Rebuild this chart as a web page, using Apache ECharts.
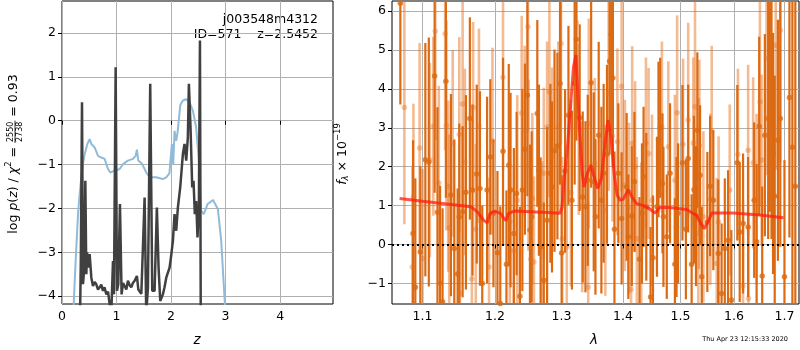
<!DOCTYPE html>
<html>
<head>
<meta charset="utf-8">
<script src="https://cdn.jsdelivr.net/npm/echarts@6/dist/echarts.min.js"></script>
<style>
  html, body { margin: 0; padding: 0; background: #fff; }
  #main { width: 800px; height: 350px; }
</style>
</head>
<body>
<div id="main"></div>
<script>
// ---- left panel: log p(z) ----
var zBlue = [0.18, 0.214, 0.254, 0.294, 0.325, 0.355, 0.385, 0.416, 0.465, 0.507, 0.538, 0.599, 0.66, 0.721, 0.782,
  0.843, 0.886, 0.965, 1.057, 1.118, 1.209, 1.301, 1.35, 1.374, 1.399, 1.472, 1.545, 1.606, 1.728, 1.85, 1.912,
  1.97, 2.015, 2.04, 2.064, 2.095, 2.119, 2.17, 2.217, 2.278, 2.339, 2.4, 2.46, 2.51, 2.55, 2.6, 2.67, 2.77,
  2.86, 2.92, 2.98, 3.01];
var logpBlue = [-4.6, -4.2, -3.1, -2.13, -1.65, -1.29, -0.98, -0.76, -0.53, -0.42, -0.53, -0.61, -0.8, -0.84, -0.87,
  -1.1, -1.18, -1.14, -1.1, -0.99, -0.91, -0.87, -0.8, -0.66, -0.91, -0.99, -1.18, -1.29, -1.29, -1.33, -1.29,
  -1.2, -0.53, -0.99, -0.23, -0.46, -0.27, 0.36, 0.46, 0.49, 0.42, 0.23, -0.15, -0.91, -2.05, -2.13, -1.9, -1.81,
  -2.02, -2.74, -4.03, -4.6];

var zDark = [0.33, 0.345, 0.367, 0.385, 0.41, 0.428, 0.446, 0.46, 0.477, 0.507, 0.538, 0.568, 0.6, 0.629, 0.66,
  0.69, 0.72, 0.751, 0.78, 0.813, 0.845, 0.874, 0.904, 0.935, 0.953, 0.984, 1.008, 1.032, 1.063, 1.093, 1.12,
  1.148, 1.18, 1.209, 1.24, 1.27, 1.3, 1.332, 1.374, 1.4, 1.423, 1.455, 1.484, 1.515, 1.545, 1.576, 1.618,
  1.655, 1.698, 1.74, 1.771, 1.802, 1.85, 1.88, 1.912, 1.945, 1.973, 2.0, 2.034, 2.064, 2.095, 2.125, 2.168,
  2.217, 2.247, 2.278, 2.308, 2.327, 2.357, 2.388, 2.412, 2.436, 2.461, 2.485, 2.51, 2.53, 2.545];
var logpDark = [-4.6, -3.2, 0.42, -3.73, -3.35, -1.37, -3.5, -3.0, -3.35, -3.04, -3.58, -3.77, -3.68, -3.73, -3.85,
  -3.8, -3.74, -3.88, -3.8, -3.96, -3.9, -4.19, -4.4, -3.2, -3.96, 1.22, -3.88, -3.73, -1.9, -3.96, -3.7,
  -3.73, -3.85, -3.65, -3.75, -3.8, -3.7, -3.65, -3.54, -3.85, -3.88, -3.95, -3.96, -1.75, -4.4, -3.8, 0.84,
  -3.88, -3.88, -1.98, -3.35, -4.11, -3.96, -3.8, -3.58, -3.62, -3.35, -3.1, -2.74, -2.13, -2.51, -1.98, -1.52,
  -0.76, -0.53, -0.91, -0.38, 0.84, -0.15, -1.52, -1.37, -2.13, -1.83, -2.66, -1.98, 1.83, -4.6];

var zTicks = [0, 1, 2, 3, 4];
var logpTicks = [-4, -3, -2, -1, 0, 1, 2];

// ---- right panel: spectrum ----
var lamDark = [1.071, 1.0875, 1.0905, 1.097, 1.1037, 1.1083, 1.1161, 1.1199, 1.1234, 1.1268, 1.1313, 1.1382, 1.1428,
  1.1474, 1.1497, 1.1543, 1.1589, 1.1644, 1.1681, 1.1741, 1.1786, 1.1819, 1.1888, 1.1934, 1.1979, 1.2037, 1.2078,
  1.2118, 1.2168, 1.2202, 1.2228, 1.2277, 1.2318, 1.2367, 1.2403, 1.2442, 1.2478, 1.2517,
  1.2543, 1.2628, 1.2652, 1.2678, 1.2727, 1.2778, 1.2828, 1.2853, 1.2892, 1.2937, 1.2978, 1.3003, 1.3057, 1.3110,
  1.3165, 1.3208, 1.3235, 1.3288, 1.3337, 1.3381, 1.3418, 1.3473, 1.3515, 1.3543, 1.3596, 1.3640, 1.3677, 1.3732,
  1.3775, 1.3802, 1.3830, 1.3856, 1.3921, 1.3976, 1.4061, 1.4089, 1.4148, 1.4193, 1.4280, 1.4322, 1.4350, 1.4397,
  1.4471, 1.4513, 1.4583, 1.4610, 1.4640, 1.4680,
  1.4697, 1.4756, 1.4814, 1.4901, 1.4930, 1.4958, 1.5037, 1.5099, 1.5141, 1.5204, 1.5247, 1.5284, 1.5309, 1.5359,
  1.5390, 1.5494, 1.5545, 1.5606, 1.5699, 1.5762, 1.5823, 1.5885, 1.5948, 1.6063, 1.6109, 1.6174, 1.6273, 1.6392,
  1.6440, 1.6491, 1.6551, 1.6604, 1.6670, 1.6703, 1.6737, 1.6768, 1.6802, 1.6867, 1.6915, 1.7000, 1.7102, 1.7163,
  1.7224];
var fluxDark = [6.2, 0.28, -1.1, -0.19, 2.18, 2.12, 4.33, 0.83, -0.99, -1.47, 4.2, 1.27, -0.1,
  -0.76, 0.71, 0.84, 1.34, 3.24, 1.4, 1.81, 1.44, -1.0, 1.4, 2.25, 0.8, -0.21, -1.52,
  2.4, -0.51, 2.04, 1.4, 0.28, 1.31, -1.33, 1.4, 2.45, 3.84, 0.37,
  0.71, 3.37, 1.91, -0.06, -0.92, 0.62, 1.83, 1.48, 2.41, 2.53, 4.14, -0.22, 1.89, 3.32,
  1.14, 4.14, 5.27, 3.26, 1.22, 0.97, 1.65, 4.16, 1.61, 0.71, 2.81, 1.14, 1.83, 2.32,
  4.71, 5.4, 4.28, 0.39, 1.83, 0.67, 1.48, 0.2, 0.73, 1.61, -0.38, 0.8, 1.74, 0.97,
  -1.35, -0.34, 0.97, 2.7, 3.0, 1.57,
  0.71, 0.2, 1.83, -0.51, 0.45, 0.8, 2.1, 0.39, 2.21, -0.51, 1.41, 0.73, 2.94, 1.78,
  -0.83, 0.58, 1.5, 1.14, -0.23, -1.26, -0.1, 0.11, -1.43, 2.1, 0.32, 0.54, 0.45, 1.14,
  0.07, 3.04, -0.81, 2.81, 3.24, 3.94, 3.24, 2.34, 1.24, 2.68, 3.24, -0.83, 3.78, 2.5,
  1.5];
var errDark = [2.6, 2.4, 2.8, 2.2, 3.0, 3.2, 3.0, 2.7, 2.5, 2.4, 3.0, 2.6, 2.8,
  2.2, 2.4, 2.2, 2.5, 2.6, 2.2, 2.3, 2.5, 2.0, 2.4, 2.0, 1.9, 2.1, 2.5,
  2.4, 1.9, 2.6, 2.5, 2.2, 2.1, 2.3, 2.6, 2.2, 2.6, 2.2,
  2.2, 2.4, 2.2, 2.3, 2.0, 2.4, 2.3, 2.2, 2.6, 2.4, 2.6, 2.0, 2.1, 2.3,
  2.3, 2.6, 2.6, 2.4, 2.2, 2.2, 2.2, 2.7, 2.3, 2.0, 2.4, 2.4, 2.3, 2.3,
  2.4, 2.5, 2.3, 2.0, 1.8, 1.7, 1.9, 1.6, 1.8, 1.8, 1.6, 1.8, 1.8, 1.9,
  1.8, 1.6, 1.8, 2.0, 1.8, 1.8,
  1.8, 1.6, 1.8, 1.7, 1.8, 1.8, 2.0, 1.8, 1.9, 1.8, 1.9, 1.8, 2.0, 1.8,
  1.8, 1.8, 1.8, 1.8, 1.9, 1.8, 1.8, 1.8, 1.8, 2.0, 1.8, 1.8, 1.8, 2.0,
  2.0, 2.3, 2.3, 2.6, 3.1, 3.1, 3.1, 3.1, 3.1, 3.1, 3.3, 3.0, 3.6, 4.6,
  5.0];

var lamLight = [1.0762, 1.0866, 1.0880, 1.0961, 1.1000, 1.1097, 1.1143, 1.1170, 1.1217, 1.1303, 1.1320, 1.1345,
  1.1359, 1.1406, 1.1497, 1.1506, 1.1543, 1.1575, 1.1672, 1.1690, 1.1727, 1.1772, 1.1916, 1.1965, 1.2118, 1.2217,
  1.2277, 1.2328, 1.2393, 1.2438, 1.2487, 1.2495, 1.2528,
  1.2553, 1.2577, 1.2703, 1.2727, 1.2778, 1.2813, 1.2853, 1.2952, 1.2993, 1.3013, 1.3084, 1.3149, 1.3235, 1.3273,
  1.3328, 1.3425, 1.3435, 1.3532, 1.3705, 1.3759, 1.3824, 1.3905, 1.3976, 1.4031, 1.4101, 1.4136, 1.4155, 1.4205,
  1.4235, 1.4310, 1.4391, 1.4437, 1.4496, 1.4670,
  1.4784, 1.4901, 1.4941, 1.5048, 1.5141, 1.5234, 1.5266, 1.5327, 1.5335, 1.5346, 1.5420, 1.5550, 1.5576, 1.5669,
  1.5705, 1.5917, 1.6075, 1.6174, 1.6273, 1.6280, 1.6372, 1.6440, 1.6505, 1.6539, 1.6638, 1.6689, 1.6822, 1.6915];
var fluxLight = [3.52, -0.58, 1.22, 2.48, -0.36, 2.17, 3.04, 5.48, 1.58, 5.42, 3.06, 1.5,
  0.43, 2.6, 2.83, -1.26, 3.61, 2.12, -0.89, 3.52, 0.39, 3.05, -0.58, 2.66, 4.3, 0.59,
  -0.16, 1.14, 3.38, 2.91, 5.6, 2.04, -0.38,
  1.18, -0.45, -0.06, 1.83, 3.02, 3.92, 2.25, 3.02, 5.17, 0.15, -0.06, 1.33, 5.7, 2.96,
  0.97, -1.1, 3.11, 2.08, 0.88, 3.88, 2.79, 2.64, 4.07, 1.52, 0.93, -1.16, 2.6, 2.0,
  0.15, 0.11, 2.61, 2.34, 1.14, 3.02,
  2.51, 1.65, 3.39, 2.58, 3.2, 2.61, 3.54, 0.28, 1.57, 2.55, 0.71, 1.16, 2.91, -0.49,
  0.58, 1.4, 2.32, -1.07, 2.42, -1.39, 2.1, 1.16, 3.67, 2.17, 4.78, 6.15, 5.12, 5.51];
var errLight = [3.0, 2.6, 2.4, 2.7, 2.3, 2.5, 2.3, 2.8, 2.5, 3.0, 2.7, 2.2,
  2.4, 2.4, 2.5, 2.0, 2.7, 2.4, 1.8, 2.2, 2.2, 2.5, 2.3, 2.4, 2.4, 2.6,
  2.2, 2.7, 2.5, 2.2, 2.7, 2.2, 2.2,
  2.2, 2.2, 2.2, 2.2, 2.2, 2.7, 2.3, 2.2, 2.6, 2.1, 2.2, 2.4, 2.7, 2.2,
  2.2, 2.2, 2.7, 2.2, 2.2, 2.5, 2.2, 2.4, 2.7, 2.2, 2.2, 2.0, 2.5, 2.2,
  2.1, 2.0, 2.2, 2.2, 2.2, 2.2,
  2.2, 2.2, 2.5, 2.2, 2.5, 2.2, 2.7, 2.2, 2.2, 2.2, 2.2, 2.2, 2.2, 2.2,
  2.2, 2.2, 2.2, 2.2, 2.2, 2.2, 2.2, 2.2, 2.7, 2.2, 3.0, 3.2, 3.2, 3.4];

var lamModel = [1.070, 1.10, 1.13, 1.166, 1.175, 1.184, 1.189, 1.193, 1.200, 1.208, 1.213, 1.216, 1.220, 1.228,
  1.253, 1.278, 1.298, 1.301, 1.304, 1.310, 1.315, 1.319, 1.323, 1.325, 1.329, 1.333, 1.336, 1.341, 1.347, 1.352,
  1.358, 1.364, 1.370, 1.375, 1.380, 1.385, 1.390, 1.395, 1.400, 1.409, 1.416, 1.423, 1.435, 1.444, 1.455, 1.463,
  1.480, 1.511, 1.529, 1.537, 1.544, 1.551, 1.558, 1.598, 1.650, 1.698];
var fluxModel = [1.18, 1.11, 1.05, 0.97, 0.84, 0.62, 0.56, 0.8, 0.86, 0.8, 0.67, 0.62, 0.8, 0.86,
  0.84, 0.82, 0.8, 0.97, 1.65, 2.6, 3.71, 4.57, 4.87, 4.14, 2.85, 1.83, 1.48, 1.83, 2.04, 1.74,
  1.44, 1.7, 2.6, 3.2, 2.77, 1.83, 1.27, 1.14, 1.16, 1.41, 1.2, 1.05, 1.0, 0.93, 0.81, 0.95,
  0.95, 0.9, 0.75, 0.55, 0.41, 0.6, 0.81, 0.81, 0.76, 0.69];

var lamTicks = [1.1, 1.2, 1.3, 1.4, 1.5, 1.6, 1.7];
var fluxTicks = [-1, 0, 1, 2, 3, 4, 5, 6];

var FONT = 'DejaVu Sans';
var FS = 12.5;
var DARK = '#dc6a12';
var LIGHT = 'rgba(230,112,30,0.48)';

var myChart = echarts.init(document.getElementById('main'));

function minus(v) { return String(v).replace('-', '\u2212'); }
function log10(v) { return Math.log(v) / Math.LN10; }

function axis(gridIndex, min, max, ticks, fmt) {
  return {
    type: 'value', gridIndex: gridIndex, min: min, max: max,
    axisLine: { show: false },
    axisTick: { show: true, inside: false, length: 4, lineStyle: { color: '#000' }, customValues: ticks },
    axisLabel: { customValues: ticks, formatter: fmt, color: '#000', fontFamily: FONT, fontSize: FS, margin: 6 },
    splitLine: { show: true, lineStyle: { color: '#b0b0b0', width: 1 } }
  };
}

function errBars(lams, vals, errs, color, width) {
  return {
    type: 'custom', xAxisIndex: 1, yAxisIndex: 1, clip: true, silent: true,
    data: lams.map(function (l, i) { return [log10(l), vals[i], errs[i]]; }),
    encode: { x: 0, y: 1 },
    renderItem: function (params, api) {
      var x = api.value(0), y = api.value(1), e = api.value(2);
      var a = api.coord([x, y - e]), b = api.coord([x, y + e]);
      return { type: 'line', shape: { x1: a[0], y1: a[1], x2: b[0], y2: b[1] },
        style: { stroke: color, lineWidth: width } };
    }
  };
}

function dots(lams, vals, color) {
  return {
    type: 'scatter', xAxisIndex: 1, yAxisIndex: 1, silent: true,
    symbol: 'circle', symbolSize: 5.5,
    itemStyle: { color: color },
    data: lams.map(function (l, i) { return [log10(l), vals[i]]; })
  };
}

// rotated axis titles made of pieces (sub/superscripts, stacked fraction)
var mctx = document.createElement('canvas').getContext('2d');
function fontOf(p) { return (p.style || 'normal') + ' ' + p.size + 'px "' + FONT + '"'; }
function textWidth(t, p) { mctx.font = fontOf(p); return mctx.measureText(t).width; }
function txt(x, y, t, p, align) {
  return { type: 'text', x: x, y: y, style: { text: t, font: fontOf(p), fill: '#000',
    align: align || 'left', verticalAlign: 'middle', textAlign: align || 'left', textVerticalAlign: 'middle' } };
}
function rotatedLabel(cx, cy, parts) {
  var total = 0;
  parts.forEach(function (p) {
    p.w = p.frac ? Math.max(textWidth(p.frac[0], p), textWidth(p.frac[1], p)) + 2 : textWidth(p.text, p);
    total += p.w;
  });
  var x = -total / 2, kids = [];
  parts.forEach(function (p) {
    if (p.frac) {
      kids.push(txt(x + p.w / 2, -3, p.frac[0], p, 'center'));
      kids.push(txt(x + p.w / 2, 6, p.frac[1], p, 'center'));
      kids.push({ type: 'line', shape: { x1: x, y1: 1.5, x2: x + p.w, y2: 1.5 }, style: { stroke: '#000', lineWidth: 0.8 } });
    } else {
      kids.push(txt(x, p.dy || 0, p.text, p));
    }
    x += p.w;
  });
  return { type: 'group', x: cx, y: cy, rotation: Math.PI / 2, children: kids };
}

var option = {
  animation: false,
  grid: [
    { left: 62, top: 1, width: 271, height: 303, show: true, borderColor: '#000', borderWidth: 1, backgroundColor: 'transparent' },
    { left: 392, top: 1, width: 407, height: 303, show: true, borderColor: '#000', borderWidth: 1, backgroundColor: 'transparent' }
  ],
  xAxis: [
    axis(0, 0, 4.97, zTicks, function (v) { return minus(v); }),
    axis(1, log10(1.0603), log10(1.730), lamTicks.map(log10), function (v) { return Math.pow(10, v).toFixed(1); })
  ],
  yAxis: [
    axis(0, -4.18, 2.73, logpTicks, function (v) { return minus(v); }),
    axis(1, -1.53, 6.26, fluxTicks, function (v) { return minus(v); })
  ],
  series: [
    {
      type: 'line', xAxisIndex: 0, yAxisIndex: 0, symbol: 'none', silent: true,
      lineStyle: { color: '#8fbbd9', width: 2 },
      data: zBlue.map(function (z, i) { return [z, logpBlue[i]]; })
    },
    {
      type: 'line', xAxisIndex: 0, yAxisIndex: 0, symbol: 'none', silent: true,
      lineStyle: { color: '#404040', width: 2.5 },
      data: zDark.map(function (z, i) { return [z, logpDark[i]]; })
    },
    errBars(lamLight, fluxLight, errLight, LIGHT, 2.6),
    dots(lamLight, fluxLight, LIGHT),
    errBars(lamDark, fluxDark, errDark, DARK, 2.2),
    dots(lamDark, fluxDark, DARK),
    {
      type: 'line', xAxisIndex: 1, yAxisIndex: 1, symbol: 'none', silent: true, z: 5,
      lineStyle: { color: 'rgba(255,30,15,0.75)', width: 3 },
      data: lamModel.map(function (l, i) { return [log10(l), fluxModel[i]]; }),
      markLine: {
        silent: true, symbol: 'none', label: { show: false },
        lineStyle: { color: '#000', type: [2, 3], width: 2 },
        data: [{ yAxis: 0 }]
      }
    }
  ],
  graphic: [
    txt(318, 20, 'j003548m4312', { size: FS }, 'right'),
    txt(318, 35, 'ID=571    z=2.5452', { size: FS }, 'right'),
    txt(197, 340, 'z', { size: FS + 1, style: 'italic' }, 'center'),
    txt(594, 340, '\u03bb', { size: FS + 1, style: 'italic' }, 'center'),
    txt(788, 339, 'Thu Apr 23 12:15:33 2020', { size: 6.5 }, 'right'),
    rotatedLabel(13.5, 154, [
      { text: 'log ', size: FS },
      { text: 'p', size: FS, style: 'italic' },
      { text: '(', size: FS },
      { text: 'z', size: FS, style: 'italic' },
      { text: ') / ', size: FS },
      { text: '\u03c7', size: FS, style: 'italic' },
      { text: '2', size: 8.5, dy: -5 },
      { text: ' = ', size: FS },
      { frac: ['2550', '2738'], size: 8 },
      { text: ' = 0.93', size: FS }
    ]),
    rotatedLabel(343, 154, [
      { text: 'f', size: FS, style: 'italic' },
      { text: '\u03bb', size: 8.5, style: 'italic', dy: 3 },
      { text: ' \u00d7 10', size: FS },
      { text: '\u221219', size: 8.5, dy: -5 }
    ])
  ]
};

myChart.setOption(option);
</script>
</body>
</html>
